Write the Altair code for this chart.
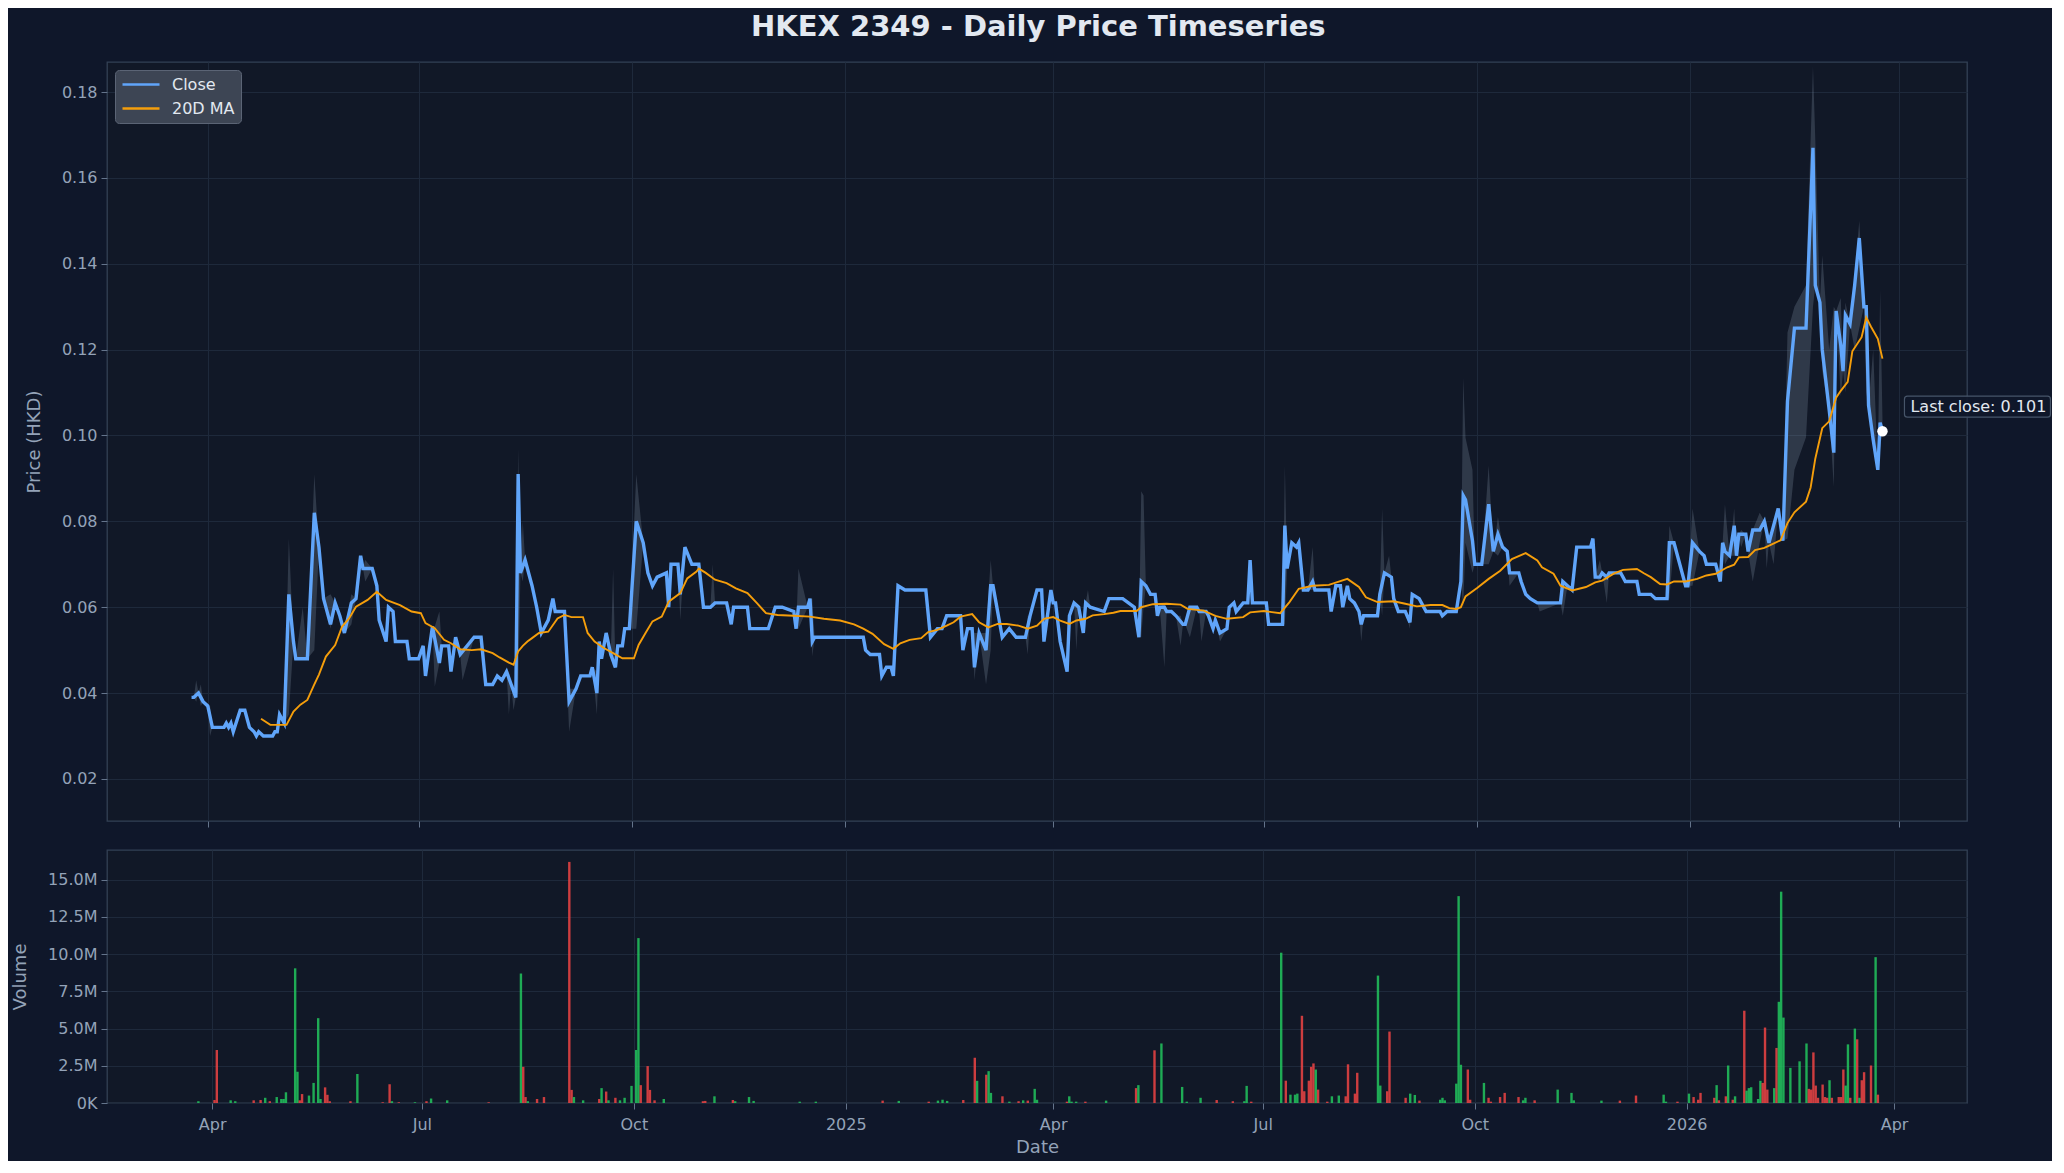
import altair as alt
import pandas as pd

# ---------------- data (days counted from 2024-04-01) ----------------
START_DATE = "2024-04-01"

close_days = [-7, -6, -4, -2, 0, 2, 7, 8, 9, 10, 11, 14, 16, 18, 20, 21, 22, 24, 28, 29, 30, 31, 33, 35, 37, 38, 43, 46, 48, 50,
              53, 55, 57, 59, 62, 64, 66, 67, 71, 73, 74, 77, 78, 80, 81, 86, 87, 91, 93, 94, 97, 100, 101, 104, 105, 107, 109, 115, 118, 120,
              123, 125, 127, 129, 131, 133, 134, 135, 137, 140, 142, 144, 147, 149, 150, 154, 156, 159, 161, 165, 166, 168, 169, 170, 172, 174, 176, 177, 179, 180,
              182, 185, 188, 190, 192, 194, 198, 199, 200, 203, 204, 206, 209, 212, 214, 217, 219, 224, 226, 227, 233, 234, 242, 245, 248, 253, 254, 255, 259, 260,
              261, 262, 283, 284, 286, 290, 291, 293, 295, 296, 298, 301, 310, 312, 315, 317, 319, 325, 326, 328, 330, 331, 333, 336, 338, 339, 340, 343, 346, 349,
              353, 355, 358, 360, 361, 364, 365, 366, 368, 371, 372, 374, 376, 378, 379, 381, 387, 389, 395, 400, 402, 403, 405, 407, 409, 410, 411, 413, 414, 416,
              418, 421, 422, 424, 427, 428, 431, 432, 434, 435, 437, 440, 441, 443, 444, 447, 449, 450, 451, 457, 458, 464, 465, 466, 468, 470, 471, 473, 475, 477,
              478, 484, 485, 487, 489, 490, 492, 493, 495, 497, 498, 499, 505, 506, 508, 511, 512, 514, 517, 519, 520, 523, 526, 532, 533, 535, 539, 541, 542, 543,
              546, 547, 550, 553, 555, 557, 559, 561, 562, 566, 567, 569, 571, 574, 584, 585, 587, 589, 591, 597, 598, 599, 601, 602, 604, 605, 610, 612, 617, 618,
              623, 625, 630, 631, 633, 638, 639, 641, 644, 646, 647, 651, 653, 654, 655, 657, 659, 660, 661, 664, 665, 667, 670, 672, 674, 676, 678, 680, 682, 685,
              690, 693, 694, 696, 697, 700, 702, 703, 705, 706, 707, 709, 711, 713, 715, 716, 717, 719, 721, 722, 723]
close_vals = [0.039, 0.039, 0.040, 0.038, 0.037, 0.032, 0.032, 0.033, 0.032, 0.033, 0.031, 0.036, 0.036, 0.032, 0.031, 0.030, 0.031, 0.030, 0.030, 0.031, 0.031, 0.035, 0.033, 0.063, 0.052, 0.048, 0.048, 0.082, 0.074, 0.062,
              0.056, 0.061, 0.058, 0.054, 0.061, 0.062, 0.072, 0.069, 0.069, 0.065, 0.057, 0.052, 0.060, 0.059, 0.052, 0.052, 0.048, 0.048, 0.051, 0.044, 0.0555, 0.047, 0.051, 0.051, 0.045, 0.053, 0.049, 0.053, 0.053, 0.042,
              0.042, 0.044, 0.043, 0.045, 0.042, 0.039, 0.091, 0.068, 0.071, 0.065, 0.060, 0.054, 0.057, 0.062, 0.059, 0.059, 0.038, 0.041, 0.044, 0.044, 0.046, 0.040, 0.052, 0.048, 0.054, 0.049, 0.046, 0.051, 0.051, 0.055,
              0.055, 0.080, 0.075, 0.068, 0.065, 0.067, 0.068, 0.060, 0.070, 0.070, 0.063, 0.074, 0.070, 0.070, 0.060, 0.060, 0.061, 0.061, 0.056, 0.060, 0.060, 0.055, 0.055, 0.060, 0.060, 0.059, 0.055, 0.060, 0.060, 0.062,
              0.052, 0.053, 0.053, 0.050, 0.049, 0.049, 0.044, 0.046, 0.046, 0.044, 0.065, 0.064, 0.064, 0.053, 0.055, 0.055, 0.058, 0.058, 0.050, 0.055, 0.055, 0.046, 0.054, 0.050, 0.065, 0.065, 0.062, 0.053, 0.055, 0.053,
              0.053, 0.058, 0.064, 0.064, 0.052, 0.064, 0.061, 0.061, 0.052, 0.045, 0.058, 0.061, 0.060, 0.054, 0.061, 0.060, 0.059, 0.062, 0.062, 0.060, 0.053, 0.066, 0.065, 0.063, 0.063, 0.058, 0.060, 0.060, 0.059, 0.059,
              0.058, 0.056, 0.056, 0.060, 0.060, 0.059, 0.059, 0.058, 0.055, 0.057, 0.054, 0.055, 0.060, 0.061, 0.059, 0.061, 0.061, 0.071, 0.061, 0.061, 0.056, 0.056, 0.079, 0.069, 0.075, 0.074, 0.075, 0.064, 0.064, 0.066,
              0.064, 0.064, 0.059, 0.065, 0.065, 0.060, 0.065, 0.062, 0.061, 0.059, 0.056, 0.058, 0.058, 0.063, 0.068, 0.067, 0.062, 0.059, 0.059, 0.0565, 0.063, 0.062, 0.059, 0.059, 0.058, 0.059, 0.059, 0.066, 0.086, 0.085,
              0.0755, 0.070, 0.070, 0.084, 0.073, 0.077, 0.074, 0.073, 0.068, 0.068, 0.066, 0.063, 0.062, 0.061, 0.061, 0.066, 0.065, 0.064, 0.074, 0.074, 0.076, 0.067, 0.067, 0.068, 0.067, 0.068, 0.068, 0.066, 0.066, 0.063,
              0.063, 0.062, 0.062, 0.075, 0.075, 0.065, 0.065, 0.075, 0.073, 0.072, 0.070, 0.070, 0.066, 0.075, 0.073, 0.072, 0.079, 0.072, 0.077, 0.077, 0.073, 0.078, 0.078, 0.080, 0.075, 0.079, 0.083, 0.0755, 0.108, 0.125,
              0.125, 0.167, 0.135, 0.131, 0.120, 0.106, 0.096, 0.129, 0.121, 0.115, 0.128, 0.126, 0.135, 0.146, 0.130, 0.130, 0.107, 0.099, 0.092, 0.103, 0.101]

ma_days = [23, 27, 34, 37, 40, 43, 46, 48, 51, 55, 58, 61, 64, 69, 73, 77, 83, 88, 92, 94, 98, 102, 105, 109, 114, 118, 123, 126, 130, 132,
           134, 136, 138, 140, 143, 147, 151, 154, 157, 162, 164, 167, 171, 175, 179, 184, 186, 189, 192, 196, 199, 204, 207, 211, 212, 215, 219, 224, 228, 233,
           237, 241, 246, 253, 260, 266, 273, 279, 283, 287, 292, 296, 299, 303, 308, 311, 315, 319, 322, 325, 330, 333, 337, 341, 345, 350, 354, 358, 361, 365,
           368, 372, 375, 379, 382, 387, 391, 394, 401, 403, 408, 414, 420, 423, 430, 435, 440, 447, 450, 456, 463, 467, 471, 477, 484, 492, 497, 500, 505, 512,
           517, 522, 528, 533, 536, 539, 541, 543, 548, 553, 558, 563, 569, 574, 576, 581, 584, 589, 595, 599, 602, 607, 611, 617, 620, 623, 627, 630, 633, 638,
           643, 647, 651, 656, 659, 661, 665, 668, 672, 675, 679, 682, 685, 690, 692, 694, 697, 700, 703, 705, 708, 710, 714, 716, 718, 721, 723]
ma_vals = [0.0340, 0.0326, 0.0326, 0.0357, 0.0373, 0.0384, 0.0420, 0.0443, 0.0485, 0.0512, 0.0555, 0.0574, 0.0601, 0.0617, 0.0636, 0.0617, 0.0605, 0.0590, 0.0586, 0.0563, 0.0551, 0.0524, 0.0516, 0.0502, 0.0500, 0.0502, 0.0493, 0.0483, 0.0471, 0.0466,
           0.0497, 0.0510, 0.0520, 0.0528, 0.0540, 0.0543, 0.0574, 0.0582, 0.0577, 0.0577, 0.0540, 0.0520, 0.0505, 0.0493, 0.0481, 0.0481, 0.0512, 0.0540, 0.0567, 0.0578, 0.0613, 0.0633, 0.0667, 0.0683, 0.0690, 0.0680, 0.0664, 0.0656, 0.0644, 0.0633,
           0.0610, 0.0586, 0.0582, 0.0580, 0.0578, 0.0573, 0.0569, 0.0560, 0.0550, 0.0538, 0.0514, 0.0503, 0.0516, 0.0524, 0.0528, 0.0542, 0.0547, 0.0557, 0.0565, 0.0578, 0.0584, 0.0565, 0.0553, 0.0561, 0.0561, 0.0557, 0.0550, 0.0557, 0.0573, 0.0577,
           0.0569, 0.0561, 0.0569, 0.0573, 0.0581, 0.0584, 0.0587, 0.0591, 0.0591, 0.0600, 0.0607, 0.0608, 0.0606, 0.0596, 0.0592, 0.0580, 0.0573, 0.0577, 0.0588, 0.0591, 0.0586, 0.0612, 0.0643, 0.0650, 0.0652, 0.0666, 0.0647, 0.0623, 0.0612, 0.0614,
           0.0608, 0.0602, 0.0605, 0.0605, 0.0598, 0.0596, 0.0600, 0.0625, 0.0645, 0.0666, 0.0685, 0.0712, 0.0726, 0.0709, 0.0693, 0.0678, 0.0650, 0.0639, 0.0647, 0.0658, 0.0662, 0.0678, 0.0687, 0.0689, 0.0679, 0.0670, 0.0654, 0.0653, 0.0660, 0.0660,
           0.0666, 0.0674, 0.0678, 0.0693, 0.0699, 0.0716, 0.0717, 0.0733, 0.0738, 0.0746, 0.0756, 0.0796, 0.0821, 0.0846, 0.0879, 0.0946, 0.1017, 0.1033, 0.1088, 0.1104, 0.1125, 0.1196, 0.1229, 0.1275, 0.1254, 0.1225, 0.1179]

# intraday low/high where they leave the close
band_days = [-5, -3, 1, 35, 41, 46, 53, 62, 68, 98, 100, 110, 130, 132, 134, 136, 156, 168, 175, 185, 204, 218, 255, 261, 331, 336, 338, 354, 375, 380,
             403, 404, 413, 420, 424, 429, 437, 465, 477, 498, 507, 510, 519, 542, 543, 546, 553, 557, 562, 575, 585, 601, 604, 631, 641, 655, 659, 662, 667, 670,
             673, 676, 682, 685, 690, 693, 694, 697, 700, 702, 705, 707, 711, 713, 716, 719, 722, 723]
band_lo = [0.038, 0.037, 0.030, 0.035, 0.048, 0.050, 0.055, 0.056, 0.066, 0.0415, 0.047, 0.043, 0.035, 0.036, 0.040, 0.066, 0.031, 0.035, 0.046, 0.055, 0.057, 0.060, 0.055, 0.0485, 0.043, 0.042, 0.050, 0.049, 0.050, 0.060,
           0.053, 0.060, 0.046, 0.051, 0.053, 0.052, 0.052, 0.056, 0.064, 0.052, 0.058, 0.067, 0.055, 0.060, 0.075, 0.068, 0.070, 0.072, 0.065, 0.059, 0.058, 0.066, 0.061, 0.062, 0.065, 0.070, 0.072, 0.074, 0.066, 0.075,
           0.069, 0.070, 0.076, 0.092, 0.0996, 0.130, 0.135, 0.115, 0.105, 0.088, 0.109, 0.110, 0.120, 0.125, 0.110, 0.097, 0.097, 0.101]
band_hi = [0.043, 0.042, 0.037, 0.076, 0.060, 0.091, 0.063, 0.063, 0.071, 0.0555, 0.059, 0.050, 0.045, 0.042, 0.097, 0.080, 0.041, 0.045, 0.069, 0.091, 0.066, 0.070, 0.069, 0.062, 0.054, 0.054, 0.071, 0.058, 0.061, 0.064,
           0.087, 0.086, 0.061, 0.058, 0.060, 0.059, 0.054, 0.093, 0.074, 0.056, 0.083, 0.072, 0.0565, 0.1135, 0.0995, 0.092, 0.093, 0.081, 0.068, 0.061, 0.066, 0.071, 0.067, 0.079, 0.083, 0.084, 0.083, 0.078, 0.078, 0.082,
           0.080, 0.079, 0.124, 0.130, 0.135, 0.186, 0.169, 0.142, 0.120, 0.130, 0.132, 0.131, 0.137, 0.150, 0.130, 0.120, 0.134, 0.104]

vol_days = [-6, 1, 2, 8, 10, 18, 21, 23, 25, 28, 30, 31, 32, 36, 37, 38, 39, 42, 44, 46, 47, 49, 50, 51, 60, 63, 74, 77, 78, 81,
            88, 93, 95, 102, 120, 134, 135, 136, 137, 141, 144, 155, 156, 157, 161, 168, 169, 171, 172, 175, 177, 179, 182, 184, 185, 186, 189, 190, 192, 196,
            213, 214, 218, 226, 227, 233, 235, 255, 262, 291, 298, 311, 315, 317, 319, 326, 331, 332, 336, 337, 338, 343, 346, 350, 352, 354, 357, 358, 371, 372,
            373, 375, 379, 388, 401, 402, 409, 412, 421, 423, 429, 436, 443, 448, 449, 451, 464, 466, 468, 470, 471, 473, 474, 476, 477, 478, 479, 480, 484, 486,
            489, 492, 493, 496, 497, 506, 507, 510, 511, 518, 520, 522, 524, 533, 534, 535, 540, 541, 542, 545, 546, 552, 554, 555, 559, 561, 567, 569, 570, 574,
            584, 590, 591, 603, 611, 618, 630, 631, 636, 641, 643, 645, 646, 652, 653, 654, 657, 658, 660, 661, 665, 666, 667, 668, 671, 672, 673, 674, 675, 678,
            679, 680, 681, 682, 685, 689, 692, 693, 694, 695, 696, 697, 699, 700, 701, 702, 703, 706, 707, 708, 709, 710, 711, 713, 714, 715, 716, 717, 720, 722,
            723]
vol_mln = [0.12, 0.2, 3.56, 0.18, 0.12, 0.18, 0.2, 0.35, 0.12, 0.4, 0.27, 0.27, 0.72, 9.05, 2.1, 0.18, 0.6, 0.5, 1.35, 5.7, 0.27, 1.05, 0.55, 0.12, 0.12, 1.95, 0.05, 1.26, 0.12, 0.05,
           0.05, 0.12, 0.3, 0.18, 0.05, 8.7, 2.43, 0.4, 0.12, 0.27, 0.4, 16.2, 0.88, 0.4, 0.18, 0.27, 1.0, 0.77, 0.18, 0.35, 0.18, 0.35, 1.15, 3.56, 11.08, 1.2, 2.48, 0.88, 0.18, 0.27,
           0.12, 0.14, 0.45, 0.2, 0.12, 0.4, 0.14, 0.09, 0.09, 0.16, 0.14, 0.09, 0.16, 0.22, 0.14, 0.2, 3.04, 1.49, 1.9, 2.14, 0.68, 0.45, 0.09, 0.12, 0.18, 0.16, 0.95, 0.22, 0.09, 0.45,
           0.09, 0.09, 0.09, 0.16, 1.0, 1.2, 3.54, 4.0, 1.08, 0.09, 0.35, 0.2, 0.12, 0.12, 1.15, 0.09, 10.1, 1.5, 0.56, 0.56, 0.63, 5.86, 0.79, 1.5, 2.43, 2.66, 2.25, 0.9, 0.09, 0.45,
           0.5, 0.45, 2.6, 0.63, 2.03, 8.56, 1.17, 0.79, 4.8, 0.35, 0.63, 0.54, 0.16, 0.22, 0.35, 0.18, 1.3, 13.9, 2.57, 2.25, 0.22, 1.35, 0.35, 0.09, 0.4, 0.68, 0.4, 0.18, 0.35, 0.18,
           0.9, 0.68, 0.18, 0.16, 0.16, 0.5, 0.56, 0.09, 0.09, 0.63, 0.4, 0.22, 0.68, 0.35, 1.2, 0.18, 0.45, 2.52, 0.22, 0.45, 6.2, 0.83, 1.0, 1.06, 0.27, 1.49, 1.35, 5.07, 0.9, 1.0,
           3.7, 6.8, 14.2, 5.74, 2.36, 2.8, 4.0, 0.95, 0.9, 3.4, 1.17, 0.35, 1.24, 0.4, 0.35, 1.53, 0.35, 0.4, 0.4, 2.25, 1.17, 3.94, 0.35, 5.0, 4.28, 0.35, 1.53, 2.07, 2.52, 9.8,
           0.56]
vol_dir = ["up", "down", "down", "up", "up", "down", "down", "up", "down", "up", "up", "up", "up", "up", "up", "down", "down", "up", "up", "up", "up", "down", "down", "down", "down", "up", "down", "down", "up", "down",
           "up", "down", "up", "up", "down", "up", "down", "down", "up", "down", "down", "down", "down", "up", "up", "down", "up", "down", "up", "down", "up", "up", "up", "up", "up", "down", "down", "down", "down", "up",
           "down", "down", "up", "down", "up", "up", "up", "up", "up", "down", "up", "down", "up", "up", "up", "down", "down", "up", "down", "up", "up", "down", "up", "down", "up", "down", "up", "up", "down", "up",
           "up", "up", "down", "up", "down", "up", "down", "up", "up", "up", "up", "down", "down", "up", "up", "down", "up", "down", "up", "up", "up", "down", "down", "down", "down", "down", "up", "down", "down", "up",
           "up", "down", "down", "down", "down", "up", "up", "down", "down", "down", "up", "up", "down", "up", "up", "up", "up", "up", "up", "down", "down", "up", "down", "down", "down", "down", "down", "up", "up", "down",
           "up", "up", "up", "up", "down", "down", "up", "up", "down", "up", "down", "down", "down", "down", "up", "down", "down", "up", "down", "up", "down", "up", "up", "up", "up", "up", "down", "down", "down", "up",
           "down", "up", "up", "up", "up", "up", "up", "down", "down", "down", "down", "down", "down", "down", "down", "up", "down", "down", "down", "down", "up", "up", "down", "up", "down", "up", "down", "down", "down", "up",
           "down"]

x_tick_dates = [(2024, 4), (2024, 7), (2024, 10), (2025, 1), (2025, 4), (2025, 7), (2025, 10), (2026, 1), (2026, 4)]
price_ticks = [0.02, 0.04, 0.06, 0.08, 0.10, 0.12, 0.14, 0.16, 0.18]
volume_ticks = [0, 2.5e6, 5e6, 7.5e6, 10e6, 12.5e6, 15e6]

# ---------------- tables ----------------
start = pd.Timestamp(START_DATE)


def to_date(d):
    return (start + pd.Timedelta(days=d)).strftime("%Y-%m-%d")


close_df = pd.DataFrame({"date": [to_date(d) for d in close_days], "value": close_vals, "series": "Close"})
ma_df = pd.DataFrame({"date": [to_date(d) for d in ma_days], "value": ma_vals, "series": "20D MA"})

band_map = {d: (v, v) for d, v in zip(close_days, close_vals)}
for d, lo, hi in zip(band_days, band_lo, band_hi):
    band_map[d] = (lo, hi)
band_df = pd.DataFrame(
    [{"date": to_date(d), "lo": band_map[d][0], "hi": band_map[d][1]} for d in sorted(band_map)]
)

vol_df = pd.DataFrame({
    "date": [to_date(d) for d in vol_days],
    "volume": [v * 1e6 for v in vol_mln],
    "dir": vol_dir,
})

last_df = pd.DataFrame({
    "date": [to_date(close_days[-1])],
    "value": [close_vals[-1]],
    "label": [f"Last close: {close_vals[-1]:.3f}"],
})

# ---------------- styling ----------------
FIG_BG = "#0f172a"
AX_BG = "#111827"
EDGE = "#334155"
GRID = "#1e293b"
TXT = "#94a3b8"
BLUE = "#60a5fa"
AMBER = "#f59e0b"
FONT = "DejaVu Sans"

x_domain = [alt.DateTime(year=2024, month=2, date=17, hours=12, utc=True),
            alt.DateTime(year=2026, month=4, date=30, hours=12, utc=True)]
x_values = [alt.DateTime(year=y, month=m, date=1, utc=True) for y, m in x_tick_dates]
x_scale = alt.Scale(type="utc", domain=x_domain, nice=False)
label_expr = "utcFormat(datum.value, '%m') == '01' ? utcFormat(datum.value, '%Y') : utcFormat(datum.value, '%b')"

x_top = alt.X("date:T", scale=x_scale,
              axis=alt.Axis(values=x_values, labels=False, title=None, grid=True, ticks=True, domain=False))
y_price = alt.Scale(domain=[0.0102, 0.187], nice=False, zero=False)
y_axis = alt.Axis(values=price_ticks, format=".2f", title="Price (HKD)", titlePadding=18, domain=False)

band = alt.Chart(band_df).mark_area(color="#94a3b8", opacity=0.24, clip=True).encode(
    x=x_top,
    y=alt.Y("lo:Q", scale=y_price, axis=y_axis),
    y2="hi:Q",
)

color_scale = alt.Scale(domain=["Close", "20D MA"], range=[BLUE, AMBER])
legend = alt.Legend(title=None, orient="top-left", offset=8, padding=6, fillColor="#3d4554",
                    strokeColor="#5b6475", cornerRadius=4, symbolType="stroke", symbolSize=1369,
                    symbolStrokeWidth=2.5, labelFontSize=16, labelColor="#e2e8f0", labelFont=FONT,
                    rowPadding=7, labelOffset=11, clipHeight=17)

close_line = alt.Chart(close_df).mark_line(strokeWidth=3.4, clip=True).encode(
    x=x_top,
    y=alt.Y("value:Q", scale=y_price),
    color=alt.Color("series:N", scale=color_scale, legend=legend),
)
ma_line = alt.Chart(ma_df).mark_line(strokeWidth=1.9, clip=True).encode(
    x=x_top,
    y=alt.Y("value:Q", scale=y_price),
    color=alt.Color("series:N", scale=color_scale, legend=legend),
)

last_pt = alt.Chart(last_df).mark_point(filled=True, color="white", opacity=1, size=110).encode(
    x=x_top, y=alt.Y("value:Q", scale=y_price)
)
last_box = alt.Chart(last_df).mark_rect(
    fill="#0f172a", fillOpacity=0.9, stroke="#475569", strokeWidth=1.2, cornerRadius=3,
    xOffset=22, x2Offset=168, yOffset=-35, y2Offset=-14,
).encode(x=x_top, x2="date:T", y=alt.Y("value:Q", scale=y_price), y2="value:Q")
last_txt = alt.Chart(last_df).mark_text(
    align="left", baseline="middle", dx=28, dy=-24, fontSize=16, font=FONT, color="#e2e8f0"
).encode(x=x_top, y=alt.Y("value:Q", scale=y_price), text="label:N")

top = alt.layer(band, close_line, ma_line, last_pt, last_box, last_txt).properties(width=1860, height=759)

vol = alt.Chart(vol_df).mark_bar(width=2.4, opacity=0.85).encode(
    x=alt.X("date:T", scale=x_scale,
            axis=alt.Axis(values=x_values, labelExpr=label_expr, title="Date", grid=True, domain=False,
                          labelPadding=7, titlePadding=6)),
    y=alt.Y("volume:Q", scale=alt.Scale(domain=[0, 17.0e6], nice=False),
            axis=alt.Axis(values=volume_ticks, title="Volume", titlePadding=18, domain=False,
                          labelExpr="datum.value == 0 ? '0K' : format(datum.value / 1000000, '.1f') + 'M'")),
    fill=alt.Fill("dir:N", scale=alt.Scale(domain=["up", "down"], range=["#22c55e", "#ef4444"]), legend=None),
).properties(width=1860, height=253)

chart = alt.vconcat(top, vol, spacing=20).resolve_scale(color="independent", fill="independent").properties(
    title=alt.TitleParams("HKEX 2349 - Daily Price Timeseries", fontSize=29, fontWeight="bold",
                          color="#e2e8f0", font=FONT, anchor="middle", offset=19, dx=7),
    padding={"left": 2, "top": 5, "right": 0, "bottom": 4},
    background=FIG_BG,
).configure_view(
    fill=AX_BG, stroke=EDGE, strokeWidth=1.3
).configure_axis(
    labelColor=TXT, labelFont=FONT, labelFontSize=16, titleColor=TXT, titleFont=FONT, titleFontSize=18,
    titleFontWeight="normal", gridColor=GRID, gridWidth=1, tickColor="#64748b", tickSize=6, labelPadding=4,
)

chart.save("out.html", embed_options={"renderer": "svg", "actions": False})
